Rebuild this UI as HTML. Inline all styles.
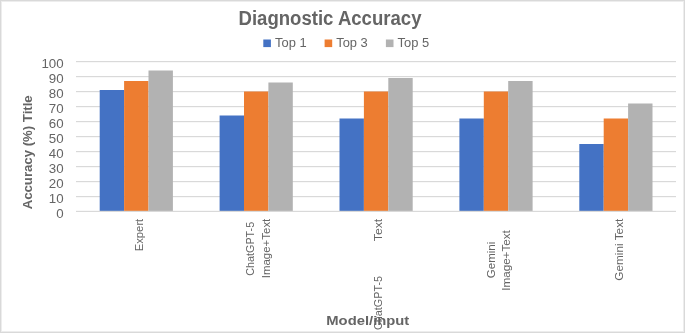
<!DOCTYPE html>
<html>
<head>
<meta charset="utf-8">
<style>
html,body{margin:0;padding:0;background:#fff;}
body{width:685px;height:333px;overflow:hidden;}
svg{display:block;will-change:transform;font-family:"Liberation Sans",sans-serif;}
.t{fill:#656565;}
.b{font-weight:bold;}
</style>
</head>
<body>
<svg width="685" height="333" viewBox="0 0 685 333">
<!-- chart border -->
<rect x="0" y="0" width="685" height="333" fill="#d9d9d9"/>
<rect x="1" y="1" width="683" height="331" fill="#ededed"/>
<rect x="2" y="2" width="681" height="329" fill="#fff"/>

<!-- title -->
<text class="t b" x="330" y="24.7" font-size="19.5" text-anchor="middle" textLength="183" lengthAdjust="spacingAndGlyphs">Diagnostic Accuracy</text>

<!-- legend -->
<rect x="263.3" y="39.5" width="7.6" height="7.6" fill="#4472C4"/>
<text class="t" x="275" y="47.2" font-size="12.5" textLength="31.6" lengthAdjust="spacingAndGlyphs">Top 1</text>
<rect x="324.6" y="39.5" width="7.6" height="7.6" fill="#ED7D31"/>
<text class="t" x="336.2" y="47.2" font-size="12.5" textLength="31.6" lengthAdjust="spacingAndGlyphs">Top 3</text>
<rect x="385.9" y="39.5" width="7.6" height="7.6" fill="#B2B2B2"/>
<text class="t" x="397.6" y="47.2" font-size="12.5" textLength="31.6" lengthAdjust="spacingAndGlyphs">Top 5</text>

<!-- gridlines -->
<g fill="#d9d9d9">
<rect x="76" y="61" width="600" height="1.2"/>
<rect x="76" y="76" width="600" height="1.2"/>
<rect x="76" y="91" width="600" height="1.2"/>
<rect x="76" y="106" width="600" height="1.2"/>
<rect x="76" y="121" width="600" height="1.2"/>
<rect x="76" y="136" width="600" height="1.2"/>
<rect x="76" y="151" width="600" height="1.2"/>
<rect x="76" y="166" width="600" height="1.2"/>
<rect x="76" y="181" width="600" height="1.2"/>
<rect x="76" y="196" width="600" height="1.2"/>
</g>

<!-- bars: top = 211.5 - 1.5v -->
<g>
<!-- Expert -->
<rect x="99.70" y="90.00" width="24.40" height="121.20" fill="#4472C4"/>
<rect x="124.10" y="81.00" width="24.40" height="130.20" fill="#ED7D31"/>
<rect x="148.50" y="70.50" width="24.40" height="140.70" fill="#B2B2B2"/>
<!-- ChatGPT-5 Image+Text -->
<rect x="219.60" y="115.50" width="24.40" height="95.70" fill="#4472C4"/>
<rect x="244.00" y="91.50" width="24.40" height="119.70" fill="#ED7D31"/>
<rect x="268.40" y="82.50" width="24.40" height="128.70" fill="#B2B2B2"/>
<!-- ChatGPT-5 Text -->
<rect x="339.50" y="118.50" width="24.40" height="92.70" fill="#4472C4"/>
<rect x="363.90" y="91.50" width="24.40" height="119.70" fill="#ED7D31"/>
<rect x="388.30" y="78.00" width="24.40" height="133.20" fill="#B2B2B2"/>
<!-- Gemini Image+Text -->
<rect x="459.40" y="118.50" width="24.40" height="92.70" fill="#4472C4"/>
<rect x="483.80" y="91.50" width="24.40" height="119.70" fill="#ED7D31"/>
<rect x="508.20" y="81.00" width="24.40" height="130.20" fill="#B2B2B2"/>
<!-- Gemini Text -->
<rect x="579.30" y="144.00" width="24.40" height="67.20" fill="#4472C4"/>
<rect x="603.70" y="118.50" width="24.40" height="92.70" fill="#ED7D31"/>
<rect x="628.10" y="103.50" width="24.40" height="107.70" fill="#B2B2B2"/>
</g>

<!-- axis line -->
<rect x="76" y="210.8" width="600" height="1.2" fill="#d9d9d9"/>

<!-- y labels -->
<g class="t" font-size="13.3" text-anchor="end">
<text x="63.6" y="68.3">100</text>
<text x="63.6" y="83.3">90</text>
<text x="63.6" y="98.3">80</text>
<text x="63.6" y="113.3">70</text>
<text x="63.6" y="128.3">60</text>
<text x="63.6" y="143.3">50</text>
<text x="63.6" y="158.3">40</text>
<text x="63.6" y="173.3">30</text>
<text x="63.6" y="188.3">20</text>
<text x="63.6" y="203.3">10</text>
<text x="63.6" y="218.3">0</text>
</g>

<!-- y axis title -->
<text class="t b" transform="translate(32.4,152.3) rotate(-90)" font-size="13.3" text-anchor="middle" textLength="114" lengthAdjust="spacingAndGlyphs">Accuracy (%) Title</text>

<!-- category labels -->
<g class="t" font-size="11" text-anchor="middle" lengthAdjust="spacingAndGlyphs">
<text transform="translate(142.5,235) rotate(-90)" textLength="32.5" lengthAdjust="spacingAndGlyphs">Expert</text>
<text transform="translate(254.2,248.8) rotate(-90)" textLength="54" lengthAdjust="spacingAndGlyphs">ChatGPT-5</text>
<text transform="translate(269.5,248.5) rotate(-90)" textLength="59.6" lengthAdjust="spacingAndGlyphs">Image+Text</text>
<text transform="translate(382.3,230) rotate(-90)" textLength="22.5" lengthAdjust="spacingAndGlyphs">Text</text>
<text transform="translate(382.2,303) rotate(-90)" textLength="54" lengthAdjust="spacingAndGlyphs">ChatGPT-5</text>
<text transform="translate(494.8,260) rotate(-90)" textLength="36.4" lengthAdjust="spacingAndGlyphs">Gemini</text>
<text transform="translate(510.2,260.5) rotate(-90)" textLength="60.5" lengthAdjust="spacingAndGlyphs">Image+Text</text>
<text transform="translate(622.8,249.7) rotate(-90)" textLength="62" lengthAdjust="spacingAndGlyphs">Gemini Text</text>
</g>

<!-- x axis title -->
<text class="t b" x="367.8" y="325.1" font-size="13.3" text-anchor="middle" textLength="83" lengthAdjust="spacingAndGlyphs">Model/input</text>
</svg>
</body>
</html>
